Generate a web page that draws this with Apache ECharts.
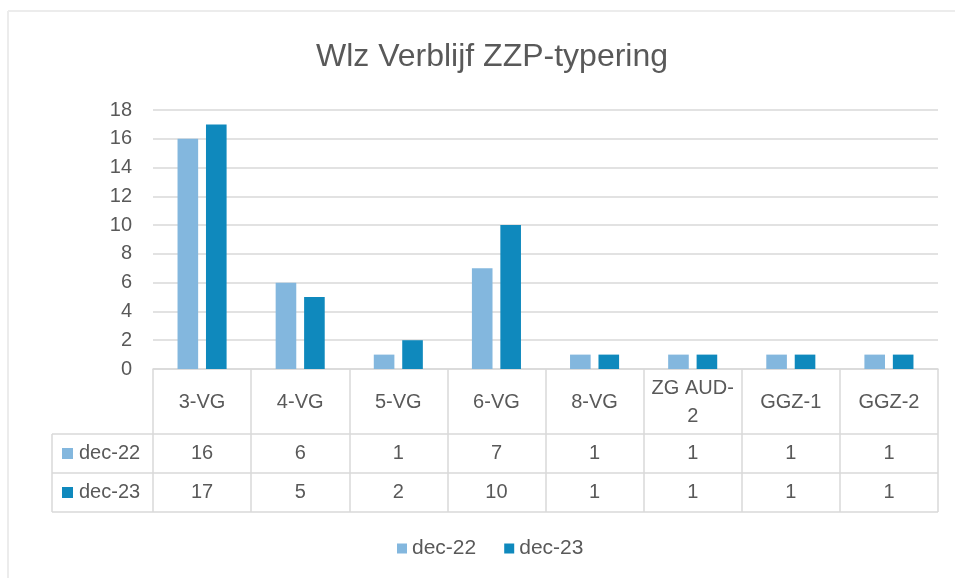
<!DOCTYPE html>
<html>
<head>
<meta charset="utf-8">
<script src="https://cdn.jsdelivr.net/npm/echarts@6/dist/echarts.min.js"></script>
<style>html,body{margin:0;padding:0;background:#fff;}#c{width:955px;height:578px;}</style>
</head>
<body>
<div id="c"></div>
<script>
const title = 'Wlz Verblijf ZZP-typering';
const categories = ['3-VG', '4-VG', '5-VG', '6-VG', '8-VG', 'ZG AUD-\n2', 'GGZ-1', 'GGZ-2'];
const seriesNames = ['dec-22', 'dec-23'];
const dec22 = [16, 6, 1, 7, 1, 1, 1, 1];
const dec23 = [17, 5, 2, 10, 1, 1, 1, 1];
const yTicks = [0, 2, 4, 6, 8, 10, 12, 14, 16, 18];

const colors = ['#83B7DE', '#0F89BD'];
const txt = '#595959';
const lineC = '#d9d9d9';
const font = 'Liberation Sans';
const fs = 20;

const G = {left: 153, right: 938, top: 110, bottom: 369};
const rowY = [G.bottom, 434, 473, 512];
const tableLeft = 52;

const chart = echarts.init(document.getElementById('c'), null, {renderer: 'canvas'});

function hLine(y, x1, x2) {
  return {type: 'line', shape: {x1: x1, y1: y, x2: x2, y2: y}, style: {stroke: lineC, lineWidth: 1.5}, silent: true};
}
function vLine(x, y1, y2) {
  return {type: 'line', shape: {x1: x, y1: y1, x2: x, y2: y2}, style: {stroke: lineC, lineWidth: 1.5}, silent: true};
}

const graphics = [
  {type: 'line', shape: {x1: 8, y1: 11, x2: 955, y2: 11}, style: {stroke: '#ececec', lineWidth: 2}, silent: true},
  {type: 'line', shape: {x1: 8, y1: 11, x2: 8, y2: 578}, style: {stroke: '#ececec', lineWidth: 2}, silent: true},
  hLine(rowY[1], tableLeft, G.right),
  hLine(rowY[2], tableLeft, G.right),
  hLine(rowY[3], tableLeft, G.right),
  vLine(tableLeft, rowY[1], rowY[3])
];
seriesNames.forEach(function (n, i) {
  const cy = (rowY[i + 1] + rowY[i + 2]) / 2;
  graphics.push({type: 'rect', shape: {x: 62, y: cy - 5.5, width: 11, height: 11}, style: {fill: colors[i]}, silent: true});
  graphics.push({type: 'text', x: 79, y: cy, style: {text: n, fill: txt, font: fs + 'px ' + font, textVerticalAlign: 'middle', textAlign: 'left'}, silent: true});
});

function valueAxis(arr, margin) {
  return {
    type: 'category', data: categories, position: 'bottom', gridIndex: 0,
    axisLine: {show: false}, axisTick: {show: false},
    axisLabel: {interval: 0, margin: margin, color: txt, fontSize: fs, fontFamily: font, verticalAlign: 'middle',
      formatter: function (v, idx) { return String(arr[idx]); }}
  };
}

chart.setOption({
  animation: false,
  title: {text: title, left: 487, top: 36, textAlign: 'center',
    textStyle: {color: txt, fontSize: 32, fontWeight: 'normal', fontFamily: font}},
  grid: {left: G.left, right: 955 - G.right, top: G.top, bottom: 578 - G.bottom, containLabel: false},
  legend: {bottom: 14, left: 392, itemWidth: 10, itemHeight: 10, itemGap: 28, icon: 'rect',
    textStyle: {color: txt, fontSize: 21, fontFamily: font}, data: seriesNames},
  xAxis: [
    {type: 'category', data: categories, position: 'bottom',
      axisLine: {show: true, lineStyle: {color: lineC, width: 1.5}},
      axisTick: {show: true, length: rowY[3] - G.bottom, lineStyle: {color: lineC, width: 1.5}},
      axisLabel: {interval: 0, margin: 33, color: txt, fontSize: fs, fontFamily: font, verticalAlign: 'middle', lineHeight: 28}},
    valueAxis(dec22, (rowY[1] + rowY[2]) / 2 - G.bottom),
    valueAxis(dec23, (rowY[2] + rowY[3]) / 2 - G.bottom)
  ],
  yAxis: {type: 'value', min: yTicks[0], max: yTicks[yTicks.length - 1], interval: yTicks[1] - yTicks[0],
    axisLine: {show: false}, axisTick: {show: false},
    axisLabel: {color: txt, fontSize: fs, fontFamily: font, margin: 21},
    splitLine: {lineStyle: {color: lineC, width: 1.5}}},
  series: [
    {name: seriesNames[0], type: 'bar', data: dec22, xAxisIndex: 0, itemStyle: {color: colors[0]}, barGap: '38%', barCategoryGap: '50%'},
    {name: seriesNames[1], type: 'bar', data: dec23, xAxisIndex: 0, itemStyle: {color: colors[1]}, barGap: '38%', barCategoryGap: '50%'}
  ],
  graphic: graphics
});
</script>
</body>
</html>
